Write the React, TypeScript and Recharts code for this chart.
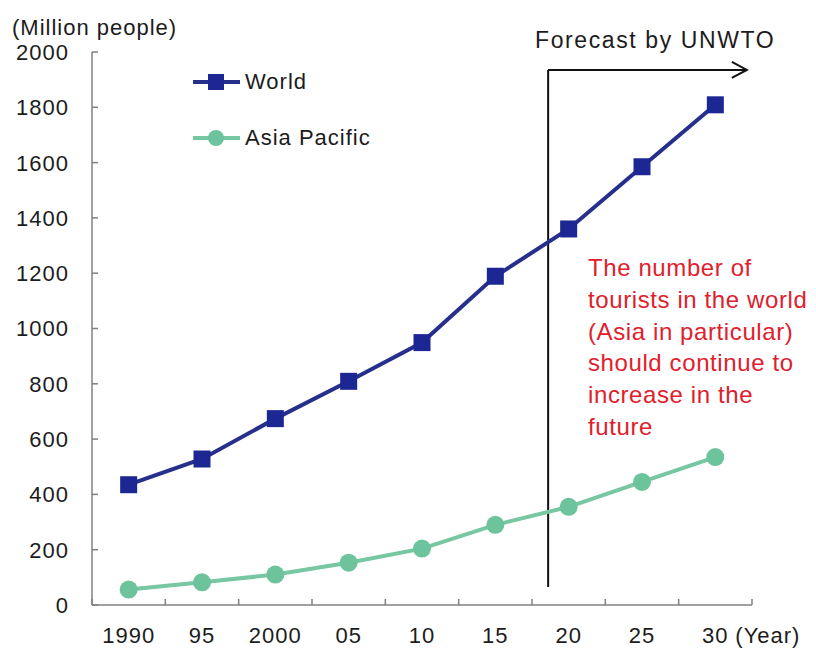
import React from "react";
import { LineChart, Line, XAxis, YAxis, ReferenceLine, Legend } from "recharts";

// arrivals, million people (2020 onward is the UNWTO forecast)
const YEARS = ["1990", "95", "2000", "05", "10", "15", "20", "25", "30"];
const WORLD = [435, 528, 674, 809, 949, 1189, 1360, 1585, 1809];
const ASIA_PACIFIC = [56, 82, 110, 153, 204, 290, 355, 445, 535];
const Y_TICKS = [0, 200, 400, 600, 800, 1000, 1200, 1400, 1600, 1800, 2000];
const SERIES_ORDER = ["world", "asia"];

// forecast bracket, in axis units (x = year index, y = million people)
const FORECAST_X = 5.72;
const FORECAST_ARROW_END = 8.43;
const FORECAST_TOP = 1935;
const FORECAST_BOTTOM = 65;

const NOTE_LINES = [
  "The number of",
  "tourists in the world",
  "(Asia in particular)",
  "should continue to",
  "increase in the",
  "future",
];

const WIDTH = 816;
const HEIGHT = 649;
const MARGIN = { top: 52, right: 64, left: 0, bottom: 0 };
const Y_AXIS_W = 92;
const X_AXIS_H = 44;
const HALF_BAND = (WIDTH - MARGIN.right - Y_AXIS_W) / YEARS.length / 2;

const FONT = "'Liberation Sans', Arial, sans-serif";
const TEXT = "#1c1c1c";
const AXIS = "#808080";
const WORLD_LINE = "#262f8c";
const WORLD_MARK = "#1d2794";
const ASIA_LINE = "#76c7a2";
const ASIA_MARK = "#6cc39c";
const NOTE_RED = "#e0202c";

const data = YEARS.map((label, i) => ({
  x: i,
  label,
  world: WORLD[i],
  asia: ASIA_PACIFIC[i],
}));

const textStyle = { fontFamily: FONT, fontSize: 22, letterSpacing: 1, fill: TEXT };

function XTick(props: any) {
  const { x, y, payload } = props;
  const i = payload.value as number;
  const last = i === YEARS.length - 1;
  return (
    <g>
      <line x1={x - HALF_BAND} x2={x - HALF_BAND} y1={y} y2={y - 6} stroke={AXIS} strokeWidth={1.5} />
      {last && (
        <line x1={x + HALF_BAND} x2={x + HALF_BAND} y1={y} y2={y - 6} stroke={AXIS} strokeWidth={1.5} />
      )}
      <text x={x} y={y + 38} textAnchor="middle" style={textStyle}>
        {YEARS[i]}
      </text>
      {last && (
        <text x={x + 20} y={y + 38} textAnchor="start" style={textStyle}>
          (Year)
        </text>
      )}
    </g>
  );
}

function YTick(props: any) {
  const { x, y, payload } = props;
  return (
    <g>
      <line x1={x} x2={x + 6} y1={y} y2={y} stroke={AXIS} strokeWidth={1.5} />
      <text x={x - 23} y={y} dy="0.36em" textAnchor="end" style={textStyle}>
        {payload.value}
      </text>
    </g>
  );
}

function SquareDot(props: any) {
  const { cx, cy, index } = props;
  if (cx == null || cy == null) return <g key={index} />;
  return <rect key={index} x={cx - 8.5} y={cy - 8.5} width={17} height={17} fill={WORLD_MARK} />;
}

function ForecastArrow(props: any) {
  const { x1, y1, x2, y2 } = props;
  return (
    <g>
      <line x1={x1} y1={y1} x2={x2} y2={y2} stroke="#111" strokeWidth={2} />
      <polyline
        points={`${x2 - 15},${y2 - 8} ${x2},${y2} ${x2 - 15},${y2 + 8}`}
        fill="none"
        stroke="#111"
        strokeWidth={2}
      />
    </g>
  );
}

function LegendContent(props: any) {
  const items = [...(props.payload || [])].sort(
    (a: any, b: any) => SERIES_ORDER.indexOf(a.dataKey) - SERIES_ORDER.indexOf(b.dataKey)
  );
  return (
    <div style={{ fontFamily: FONT, fontSize: 22, letterSpacing: 1, color: TEXT }}>
      {items.map((item: any, i: number) => {
        const isWorld = item.dataKey === "world";
        return (
          <div
            key={item.value}
            style={{ display: "flex", alignItems: "center", height: 28, marginTop: i === 0 ? 0 : 28 }}
          >
            <svg width={52} height={28} style={{ display: "block" }}>
              <line x1={0} x2={47} y1={14} y2={14} stroke={isWorld ? WORLD_LINE : ASIA_LINE} strokeWidth={4} />
              {isWorld ? (
                <rect x={15} y={6} width={16} height={16} fill={WORLD_MARK} />
              ) : (
                <circle cx={23} cy={14} r={8} fill={ASIA_MARK} />
              )}
            </svg>
            <span>{item.value}</span>
          </div>
        );
      })}
    </div>
  );
}

export default function App() {
  return (
    <div style={{ position: "absolute", left: 0, top: 0, width: WIDTH, height: HEIGHT, background: "#fff" }}>
      <LineChart width={WIDTH} height={HEIGHT} data={data} margin={MARGIN}>
        <XAxis
          dataKey="x"
          type="number"
          domain={[-0.5, YEARS.length - 0.5]}
          ticks={data.map((d) => d.x)}
          interval={0}
          height={X_AXIS_H}
          tickSize={0}
          tickMargin={0}
          tickLine={false}
          tick={<XTick />}
          axisLine={{ stroke: AXIS, strokeWidth: 1.5 }}
        />
        <YAxis
          domain={[0, 2000]}
          ticks={Y_TICKS}
          interval={0}
          width={Y_AXIS_W}
          tickSize={0}
          tickMargin={0}
          tickLine={false}
          tick={<YTick />}
          axisLine={{ stroke: AXIS, strokeWidth: 1.5 }}
        />
        <ReferenceLine
          segment={[
            { x: FORECAST_X, y: FORECAST_BOTTOM },
            { x: FORECAST_X, y: FORECAST_TOP },
          ]}
          stroke="#111"
          strokeWidth={2}
        />
        <ReferenceLine
          segment={[
            { x: FORECAST_X, y: FORECAST_TOP },
            { x: FORECAST_ARROW_END, y: FORECAST_TOP },
          ]}
          shape={ForecastArrow}
        />
        <Line
          dataKey="world"
          name="World"
          stroke={WORLD_LINE}
          strokeWidth={4}
          dot={SquareDot}
          activeDot={false}
          isAnimationActive={false}
        />
        <Line
          dataKey="asia"
          name="Asia Pacific"
          stroke={ASIA_LINE}
          strokeWidth={4}
          dot={{ r: 9, fill: ASIA_MARK, stroke: "none" }}
          activeDot={false}
          isAnimationActive={false}
        />
        <Legend
          layout="vertical"
          align="center"
          verticalAlign="middle"
          content={<LegendContent />}
          wrapperStyle={{ left: 193, top: 68, width: "auto", height: "auto" }}
        />
      </LineChart>
      <svg
        width={WIDTH}
        height={HEIGHT}
        style={{ position: "absolute", left: 0, top: 0, pointerEvents: "none" }}
      >
        <text x={12} y={35} style={textStyle}>
          (Million people)
        </text>
        <text x={535} y={48} style={{ ...textStyle, fontSize: 23, letterSpacing: 1.6 }}>
          Forecast by UNWTO
        </text>
        {NOTE_LINES.map((line, i) => (
          <text
            key={line}
            x={588}
            y={276 + i * 31.8}
            style={{ fontFamily: FONT, fontSize: 24, letterSpacing: 0.6, fill: NOTE_RED }}
          >
            {line}
          </text>
        ))}
      </svg>
    </div>
  );
}
